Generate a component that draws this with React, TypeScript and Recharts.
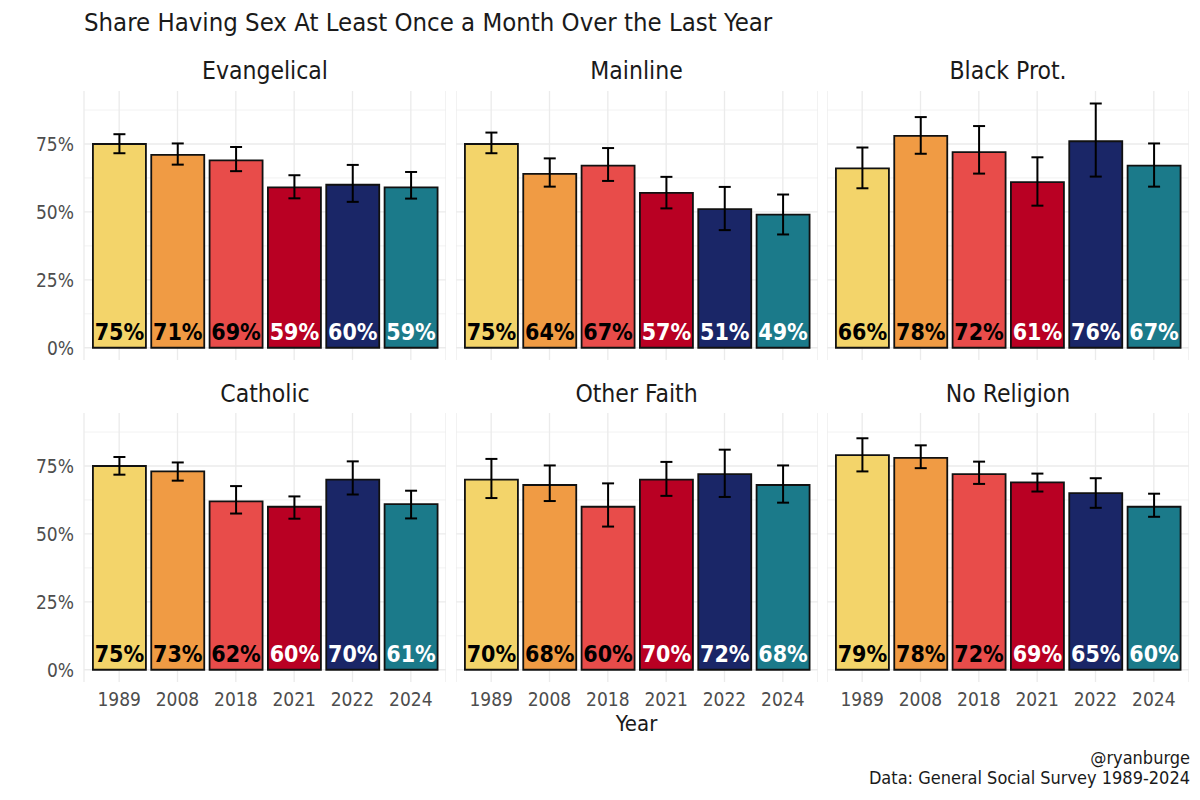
import React from "react";
import {
  Bar,
  BarChart,
  CartesianGrid,
  Cell,
  ErrorBar,
  LabelList,
  XAxis,
  YAxis
} from "recharts";

const years = ["1989", "2008", "2018", "2021", "2022", "2024"];
const groups = ["Evangelical", "Mainline", "Black Prot.", "Catholic", "Other Faith", "No Religion"];

// share, lower CI, upper CI (percent)
const evangelical = [75, 71, 69, 59, 60, 59];
const evangelicalLow = [71.6, 67.4, 65.0, 55.0, 53.7, 54.9];
const evangelicalHigh = [78.6, 75.2, 73.9, 63.5, 67.3, 64.7];

const mainline = [75, 64, 67, 57, 51, 49];
const mainlineLow = [71.6, 59.3, 61.4, 51.3, 43.3, 41.7];
const mainlineHigh = [79.2, 69.7, 73.5, 62.9, 59.2, 56.4];

const blackProt = [66, 78, 72, 61, 76, 67];
const blackProtLow = [58.7, 71.4, 64.1, 52.3, 63.0, 59.3];
const blackProtHigh = [73.7, 84.9, 81.6, 70.1, 89.9, 75.2];

const catholic = [75, 73, 62, 60, 70, 61];
const catholicLow = [71.8, 69.6, 57.5, 55.6, 64.5, 55.7];
const catholicHigh = [78.3, 76.3, 67.6, 63.8, 76.7, 65.9];

const otherFaith = [70, 68, 60, 70, 72, 68];
const otherFaithLow = [63.2, 62.1, 52.7, 64.0, 63.6, 61.5];
const otherFaithHigh = [77.6, 75.2, 68.6, 76.5, 81.0, 75.2];

const noReligion = [79, 78, 72, 69, 65, 60];
const noReligionLow = [73.0, 74.2, 68.4, 65.6, 59.6, 56.3];
const noReligionHigh = [85.2, 82.6, 76.6, 72.2, 70.5, 64.8];

const yTicks = [0, 25, 50, 75];
const minorTicks = [12.5, 37.5, 62.5, 87.5];

const barColors = ["#F3D46A", "#F09B44", "#E84C4A", "#B90023", "#1A2667", "#1B7A8A"];
const labelColors = ["#000000", "#000000", "#000000", "#ffffff", "#ffffff", "#ffffff"];

const panelValues = [evangelical, mainline, blackProt, catholic, otherFaith, noReligion];
const panelLows = [evangelicalLow, mainlineLow, blackProtLow, catholicLow, otherFaithLow, noReligionLow];
const panelHighs = [evangelicalHigh, mainlineHigh, blackProtHigh, catholicHigh, otherFaithHigh, noReligionHigh];

const FONT = "'DejaVu Sans Condensed', 'DejaVu Sans', sans-serif";
const LABEL_FONT = "'DejaVu Sans Condensed', 'DejaVu Sans', sans-serif";

const PANEL_W = 362;
const PLOT_H = 269;
const panelLefts = [84, 455.5, 827];
const rowTops = [91, 413];
const Y_AXIS_W = 50;
const X_AXIS_H = 34;

function buildRows(i: number) {
  return years.map((year, j) => ({
    year,
    value: panelValues[i][j],
    err: [panelValues[i][j] - panelLows[i][j], panelHighs[i][j] - panelValues[i][j]]
  }));
}

function BarLabel(props: any) {
  const { x, y, width, height, value, index } = props;
  return (
    <text
      x={Number(x) + Number(width) / 2}
      y={Number(y) + Number(height) - 8}
      textAnchor="middle"
      fill={labelColors[index ?? 0]}
      fontFamily={LABEL_FONT}
      fontWeight={700}
      fontSize={23}
    >
      {`${value}%`}
    </text>
  );
}

function Panel({ i }: { i: number }) {
  const col = i % 3;
  const row = Math.floor(i / 3);
  const showY = col === 0;
  const showX = row === 1;
  const left = panelLefts[col] - (showY ? Y_AXIS_W : 0);
  const width = PANEL_W + (showY ? Y_AXIS_W : 0);
  const height = PLOT_H + (showX ? X_AXIS_H : 0);
  return (
    <div style={{ position: "absolute", left, top: rowTops[row], width, height }}>
      <BarChart
        width={width}
        height={height}
        data={buildRows(i)}
        margin={{ top: 0, right: 0, bottom: 0, left: 0 }}
        barCategoryGap="5%"
      >
        <CartesianGrid
          horizontalValues={minorTicks}
          vertical={false}
          stroke="#EFEFEF"
          strokeWidth={0.8}
        />
        <CartesianGrid horizontalValues={yTicks} stroke="#EBEBEB" strokeWidth={1.3} />
        <XAxis
          dataKey="year"
          hide={!showX}
          height={X_AXIS_H}
          axisLine={false}
          tickLine={false}
          tickSize={6}
          tickMargin={5}
          padding={{ left: 6, right: 6 }}
          interval={0}
          tick={{ fill: "#4D4D4D", fontSize: 19, fontFamily: FONT }}
        />
        <YAxis
          hide={!showY}
          width={Y_AXIS_W}
          domain={[-4.5, 94.5]}
          allowDataOverflow
          ticks={yTicks}
          axisLine={false}
          tickLine={false}
          tickSize={6}
          tickMargin={4}
          tickFormatter={(v: number) => `${v}%`}
          tick={{ fill: "#4D4D4D", fontSize: 19, fontFamily: FONT }}
        />
        <Bar dataKey="value" stroke="#111111" strokeWidth={1.8} isAnimationActive={false}>
          {years.map((y, j) => (
            <Cell key={y} fill={barColors[j]} />
          ))}
          <ErrorBar dataKey="err" direction="y" width={6} stroke="#000000" strokeWidth={2} />
          <LabelList dataKey="value" content={BarLabel} />
        </Bar>
      </BarChart>
    </div>
  );
}

export default function App() {
  const stripTops = [70, 393];
  return (
    <div
      style={{
        position: "fixed",
        left: 0,
        top: 0,
        width: 1200,
        height: 800,
        background: "#ffffff",
        fontFamily: FONT,
        color: "#1A1A1A"
      }}
    >
      <div
        style={{
          position: "absolute",
          left: 84,
          top: 22,
          transform: "translateY(-50%)",
          fontSize: 25.5,
          whiteSpace: "nowrap"
        }}
      >
        Share Having Sex At Least Once a Month Over the Last Year
      </div>
      {groups.map((g, i) => (
        <div
          key={g}
          style={{
            position: "absolute",
            left: panelLefts[i % 3],
            width: PANEL_W,
            top: stripTops[Math.floor(i / 3)],
            transform: "translateY(-50%)",
            textAlign: "center",
            fontSize: 24.5,
            whiteSpace: "nowrap"
          }}
        >
          {g}
        </div>
      ))}
      {groups.map((g, i) => (
        <Panel key={g} i={i} />
      ))}
      <div
        style={{
          position: "absolute",
          left: panelLefts[1],
          width: PANEL_W,
          top: 723,
          transform: "translateY(-50%)",
          textAlign: "center",
          fontSize: 22
        }}
      >
        Year
      </div>
      <div
        style={{
          position: "absolute",
          right: 10,
          top: 748,
          textAlign: "right",
          fontSize: 18,
          lineHeight: "20px"
        }}
      >
        <div>@ryanburge</div>
        <div>Data: General Social Survey 1989-2024</div>
      </div>
    </div>
  );
}
